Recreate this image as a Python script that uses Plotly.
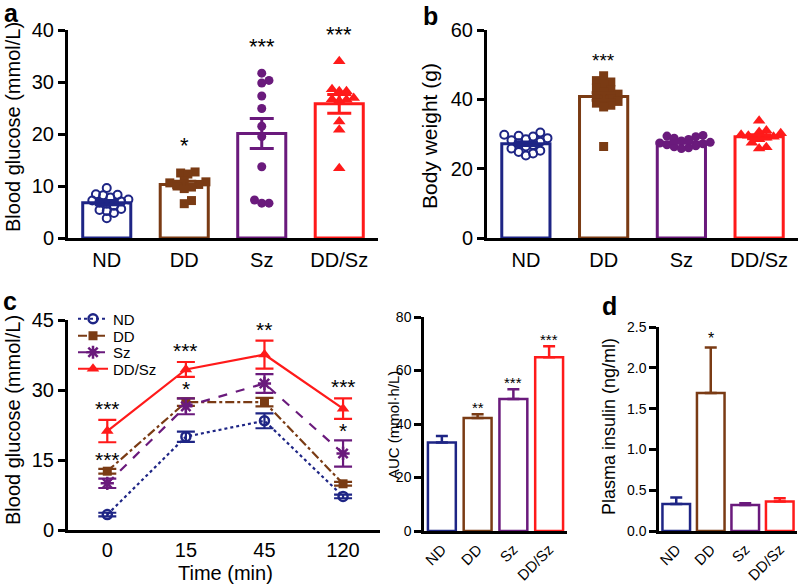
import plotly.graph_objects as go

# ---------------- data ----------------
groups = ["ND", "DD", "Sz", "DD/Sz"]

# panel a: fasting blood glucose (mmol/L)
glu_mean = [6.8, 10.3, 20.1, 25.8]
glu_sem = [0.4, 0.6, 2.9, 1.8]
glu_nd = [9.6, 8.4, 8.3, 8.2, 7.8, 7.4, 7.2, 7.0, 6.8, 6.6, 6.2, 5.6, 5.4, 5.2, 4.8, 3.8]
glu_dd = [12.7, 12.5, 12.3, 11.0, 10.8, 10.6, 10.3, 10.0, 9.8, 9.5, 7.2, 6.6]
glu_sz = [31.7, 30.3, 29.8, 27.3, 24.9, 21.5, 19.5, 13.7, 7.3, 6.7, 6.7]
glu_ddsz = [34.0, 28.6, 28.2, 28.2, 26.9, 26.7, 26.6, 26.4, 22.4, 20.8, 13.4]
glu_sig = ["", "*", "***", "***"]

# panel b: body weight (g)
bw_mean = [27.2, 40.8, 27.6, 29.2]
bw_sem = [0.5, 1.1, 0.3, 0.6]
bw_nd = [30.4, 29.8, 29.5, 29.3, 28.8, 28.5, 28.2, 27.8, 27.3, 26.8, 26.4, 25.8, 25.2, 24.8, 24.4, 23.8]
bw_dd = [46.8, 45.4, 45.0, 44.3, 43.3, 42.8, 42.1, 41.5, 41.0, 40.4, 39.9, 39.4, 38.9, 38.3, 37.8, 26.4]
bw_sz = [29.6, 29.4, 29.2, 28.8, 28.4, 28.0, 27.6, 27.4, 27.2, 26.9, 26.6, 26.3, 26.0, 25.8]
bw_ddsz = [33.8, 31.0, 30.6, 30.2, 29.8, 29.5, 29.2, 28.9, 28.5, 27.5, 26.2, 25.8]
bw_sig = ["", "***", "", ""]

# panel c: glucose tolerance test
time_labels = ["0", "15", "45", "120"]
ogtt_nd = [3.3, 20.0, 23.4, 7.2]
ogtt_dd = [12.6, 27.4, 27.4, 9.9]
ogtt_sz = [10.0, 26.5, 31.4, 16.4]
ogtt_ddsz = [21.2, 34.4, 37.6, 26.0]
ogtt_nd_sem = [0.4, 1.1, 1.6, 0.4]
ogtt_dd_sem = [0.5, 0.8, 0.9, 0.4]
ogtt_sz_sem = [1.0, 1.7, 2.0, 2.8]
ogtt_ddsz_sem = [2.4, 1.6, 3.0, 2.2]
ogtt_sig_high = ["***", "***", "**", "***"]
ogtt_sig_low = ["***", "*", "", "*"]

# panel c right: AUC (mmol·h/L)
auc_mean = [33.1, 42.2, 49.3, 65.0]
auc_sem = [2.4, 1.4, 3.7, 4.1]
auc_sig = ["", "**", "***", "***"]

# panel d: plasma insulin (ng/ml)
ins_mean = [0.33, 1.69, 0.32, 0.36]
ins_sem = [0.08, 0.56, 0.02, 0.04]
ins_sig = ["", "*", "", ""]

# ---------------- style ----------------
FONT = "Liberation Sans, Arial, sans-serif"
COL = ["#1e2585", "#7a3b14", "#6a1a7c", "#ff1a1a"]
W, H = 800, 586


def swarm(vals, xpx, ypx, diam):
    """simple beeswarm: horizontal offsets (data units) so markers don't overlap"""
    order = sorted(range(len(vals)), key=lambda i: vals[i])
    placed, offs = [], [0.0] * len(vals)
    step = diam * 0.5
    cands = [0.0] + [s * j * step for j in range(1, 60) for s in (1, -1)]
    for i in order:
        y = vals[i] * ypx
        for c in cands:
            if all((c - px) ** 2 + (y - py) ** 2 >= diam ** 2 for px, py in placed):
                break
        placed.append((c, y))
        offs[i] = c / xpx
    return offs


def dom_x(a, b):
    return [a / W, b / W]


def dom_y(top, bottom):
    return [1 - bottom / H, 1 - top / H]


fig = go.Figure()

# ---------- panel a & b (bars + dots) ----------
def bar_dot_panel(xa, ya, means, sems, pts, xpx, ypx, cap):
    for i, g in enumerate(groups):
        fig.add_trace(go.Bar(
            x=[i], y=[means[i]], width=0.62, xaxis=xa, yaxis=ya,
            marker=dict(color="white", line=dict(color=COL[i], width=3)),
            showlegend=False, hoverinfo="skip"))
    symbols = ["circle-open", "square", "circle", "triangle-up"]
    sizes = [8, 9, 9, 11]
    for i, g in enumerate(groups):
        offs = swarm(pts[i], xpx, ypx, 7.2)
        fig.add_trace(go.Scatter(
            x=[i + o for o in offs], y=pts[i], mode="markers", xaxis=xa, yaxis=ya,
            marker=dict(symbol=symbols[i], size=sizes[i], color=COL[i],
                        line=dict(color=COL[i], width=2 if i == 0 else 0)),
            cliponaxis=False, showlegend=False, hoverinfo="skip"))
    for i, g in enumerate(groups):
        fig.add_trace(go.Scatter(
            x=[i], y=[means[i]], mode="markers", xaxis=xa, yaxis=ya,
            marker=dict(size=1, color="rgba(0,0,0,0)"),
            error_y=dict(type="data", array=[sems[i]], color=COL[i], thickness=3, width=cap),
            showlegend=False, hoverinfo="skip", cliponaxis=False))


bar_dot_panel("x", "y", glu_mean, glu_sem, [glu_nd, glu_dd, glu_sz, glu_ddsz], 77.3, 5.2, 12)
bar_dot_panel("x2", "y2", bw_mean, bw_sem, [bw_nd, bw_dd, bw_sz, bw_ddsz], 77.7, 3.467, 12)

# ---------- panel c line ----------
line_series = [
    ("ND", ogtt_nd, ogtt_nd_sem, "circle-open", 9, "dot"),
    ("DD", ogtt_dd, ogtt_dd_sem, "square", 9, "dashdot"),
    ("Sz", ogtt_sz, ogtt_sz_sem, "asterisk-open", 11, "dash"),
    ("DD/Sz", ogtt_ddsz, ogtt_ddsz_sem, "triangle-up", 11, "solid"),
]
legend_names = ["legend", "legend2", "legend3", "legend4"]
for i, (name, vals, sem, sym, sz, dash) in enumerate(line_series):
    fig.add_trace(go.Scatter(
        x=list(range(len(time_labels))), y=vals, name=name, mode="lines+markers",
        xaxis="x3", yaxis="y3", legend=legend_names[i],
        line=dict(color=COL[i], width=2.2, dash=dash),
        marker=dict(symbol=sym, size=sz, color=COL[i],
                    line=dict(color=COL[i], width=2.5 if sym.endswith("open") else 0)),
        error_y=dict(type="data", array=sem, color=COL[i], thickness=2.2, width=9),
        cliponaxis=False, showlegend=True, hoverinfo="skip"))

# ---------- AUC ----------
for i, g in enumerate(groups):
    fig.add_trace(go.Bar(
        x=[i], y=[auc_mean[i]], width=0.78, xaxis="x4", yaxis="y4",
        marker=dict(color="white", line=dict(color=COL[i], width=2.5)),
        error_y=dict(type="data", symmetric=False, array=[auc_sem[i]], arrayminus=[0],
                     color=COL[i], thickness=2.5, width=6),
        showlegend=False, hoverinfo="skip"))

# ---------- panel d ----------
for i, g in enumerate(groups):
    fig.add_trace(go.Bar(
        x=[i], y=[ins_mean[i]], width=0.8, xaxis="x5", yaxis="y5",
        marker=dict(color="white", line=dict(color=COL[i], width=2.5)),
        error_y=dict(type="data", symmetric=False, array=[ins_sem[i]], arrayminus=[0],
                     color=COL[i], thickness=2.5, width=6),
        showlegend=False, hoverinfo="skip"))

# ---------- axes ----------
def xax(domain, anchor, ticktext, fs, rng=(-0.5, 3.5), angle=0, standoff=2):
    return dict(domain=domain, anchor=anchor, range=list(rng), showline=True,
                linecolor="black", linewidth=3, ticks="", showgrid=False, zeroline=False,
                tickmode="array", tickvals=list(range(len(ticktext))), ticktext=ticktext,
                tickfont=dict(size=fs, color="black", family=FONT), tickangle=angle,
                ticklabelstandoff=standoff, automargin=False)


def yax(domain, anchor, rng, dtick, fs, fmt=None, lw=3):
    d = dict(domain=domain, anchor=anchor, range=list(rng), showline=True,
             linecolor="black", linewidth=lw, ticks="outside", ticklen=7, tickwidth=lw,
             tickcolor="black", showgrid=False, zeroline=False, tickmode="linear",
             tick0=0, dtick=dtick, tickfont=dict(size=fs, color="black", family=FONT),
             automargin=False)
    if fmt:
        d["tickformat"] = fmt
    return d


def leg(ycenter):
    return dict(x=73 / W, y=1 - ycenter / H, xanchor="left", yanchor="middle",
                font=dict(size=15, color="black", family=FONT),
                bgcolor="rgba(0,0,0,0)", itemwidth=30)


fig.update_layout(
    width=W, height=586, margin=dict(l=0, r=0, t=0, b=0, autoexpand=False),
    paper_bgcolor="white", plot_bgcolor="white",
    font=dict(family=FONT, color="black"),
    barmode="overlay",
    xaxis=xax(dom_x(68, 378), "y", groups, 20),
    yaxis=yax(dom_y(30, 238), "x", (0, 40), 10, 20),
    xaxis2=xax(dom_x(487, 798), "y2", groups, 20),
    yaxis2=yax(dom_y(30, 238), "x2", (0, 60), 20, 20),
    xaxis3=xax(dom_x(68, 380), "y3", time_labels, 20, rng=(-0.5, 3.47), standoff=0),
    yaxis3=yax(dom_y(320, 530), "x3", (0, 45), 15, 20),
    xaxis4=xax(dom_x(424, 567), "y4", groups, 15, angle=-45, standoff=1),
    yaxis4=yax(dom_y(317, 531), "x4", (0, 80), 20, 14, lw=2.5),
    xaxis5=xax(dom_x(659, 797), "y5", groups, 15, angle=-45, standoff=1),
    yaxis5=yax(dom_y(327, 531), "x5", (0, 2.5), 0.5, 14, fmt=".1f", lw=2.5),
    legend=leg(319), legend2=leg(336), legend3=leg(352.5), legend4=leg(369),
    showlegend=True,
)

ann = []


def star(xref, yref, x, y, text, size, yshift):
    if text:
        ann.append(dict(xref=xref, yref=yref, x=x, y=y, text=text, showarrow=False,
                        yanchor="bottom", xanchor="center", yshift=yshift,
                        font=dict(size=size, color="black", family=FONT)))


glu_pts = [glu_nd, glu_dd, glu_sz, glu_ddsz]
bw_pts = [bw_nd, bw_dd, bw_sz, bw_ddsz]
for i in range(4):
    star("x", "y", i, max(glu_pts[i]), glu_sig[i], 22, 12)
    star("x2", "y2", i, max(bw_pts[i]), bw_sig[i], 19, 3)
    star("x4", "y4", i, auc_mean[i] + auc_sem[i], auc_sig[i], 15, -4)
    star("x5", "y5", i, ins_mean[i] + ins_sem[i], ins_sig[i], 16, -2)
    star("x3", "y3", i, ogtt_ddsz[i] + ogtt_ddsz_sem[i], ogtt_sig_high[i], 21, -2)
    low = max(ogtt_dd[i] + ogtt_dd_sem[i], ogtt_sz[i] + ogtt_sz_sem[i])
    star("x3", "y3", i, low, ogtt_sig_low[i], 21, -4)


def text(x, y, t, size, angle=0, bold=False):
    ann.append(dict(xref="paper", yref="paper", x=x / W, y=1 - y / H, text=f"<b>{t}</b>" if bold else t,
                    showarrow=False, textangle=angle, xanchor="center", yanchor="middle",
                    font=dict(size=size, color="black", family=FONT)))


# axis titles
text(13, 127, "Blood glucose (mmol/L)", 20, -90)
text(429, 136, "Body weight (g)", 21, -90)
text(13, 420, "Blood glucose (mmol/L)", 20, -90)
text(225, 573, "Time (min)", 20)
text(393, 425, "AUC (mmol·h/L)", 15, -90)
text(609, 427, "Plasma insulin (ng/ml)", 18, -90)
# panel letters
text(11, 13, "a", 25, bold=True)
text(431, 16, "b", 25, bold=True)
text(10, 301, "c", 25, bold=True)
text(609, 306, "d", 25, bold=True)

fig.update_layout(annotations=ann)
fig.write_html("out.html", config={"displayModeBar": False},
               post_script="document.body.style.margin='0';document.body.style.overflow='hidden';")
